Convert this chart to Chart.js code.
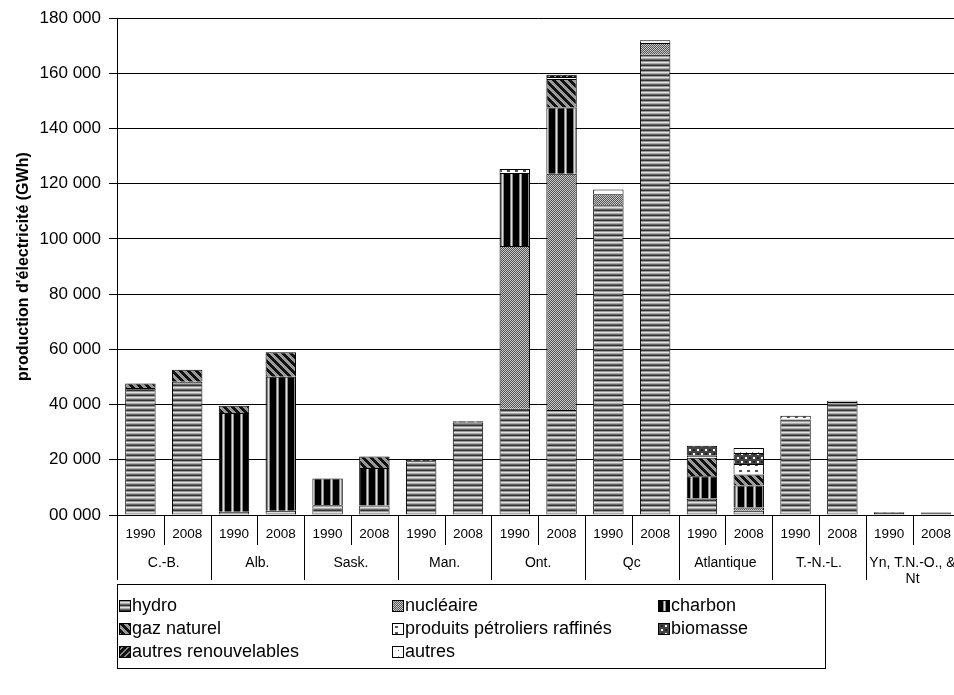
<!DOCTYPE html>
<html>
<head>
<meta charset="utf-8">
<script src="https://cdn.jsdelivr.net/npm/chart.js@4.4.0/dist/chart.umd.min.js"></script>
<style>
  html, body { margin: 0; background: #fff; overflow: hidden; }
  #box { width: 954px; height: 695px; overflow: hidden; }
</style>
</head>
<body>
<div id="box"><canvas id="chart" width="962" height="695"></canvas></div>
<script>
// données (GWh)
const years = ['1990','2008','1990','2008','1990','2008','1990','2008','1990','2008',
               '1990','2008','1990','2008','1990','2008','1990','2008'];
const regions = ['C.-B.', 'Alb.', 'Sask.', 'Man.', 'Ont.', 'Qc', 'Atlantique', 'T.-N.-L.', ['Yn, T.N.-O., &', 'Nt']];
const yTicks = [0, 20000, 40000, 60000, 80000, 100000, 120000, 140000, 160000, 180000];

const hydro     = [46000, 48300, 1200, 1500, 3500, 3400, 19500, 33500, 38500, 38000, 112200, 166800, 6000, 1500, 34600, 40900, 700, 600];
const nucleaire = [0, 0, 0, 0, 0, 0, 0, 0, 59000, 85600, 4000, 4200, 0, 1200, 0, 0, 0, 0];
const charbon   = [0, 0, 35800, 48600, 9700, 13600, 500, 500, 26400, 24000, 0, 0, 8000, 8000, 0, 0, 0, 0];
const gaz       = [1600, 4300, 2600, 8900, 0, 4200, 0, 0, 0, 10400, 0, 0, 6700, 4000, 0, 0, 0, 0];
const petrole   = [0, 0, 0, 0, 0, 0, 0, 0, 1500, 700, 1700, 500, 800, 3800, 1400, 500, 300, 300];
const biomasse  = [0, 0, 0, 0, 0, 0, 0, 0, 0, 0, 0, 0, 3600, 4000, 0, 0, 0, 0];
const autresRen = [0, 0, 0, 0, 0, 0, 0, 0, 0, 800, 0, 0, 0, 0, 0, 0, 0, 0];
const autres    = [0, 0, 0, 0, 0, 0, 0, 0, 0, 0, 0, 500, 0, 1800, 0, 0, 0, 0];

const ctx = document.getElementById('chart').getContext('2d');

function tile(w, h, fn) {
  const c = document.createElement('canvas');
  c.width = w; c.height = h;
  const g = c.getContext('2d');
  for (let y = 0; y < h; y++) {
    for (let x = 0; x < w; x++) {
      g.fillStyle = fn(x, y);
      g.fillRect(x, y, 1, 1);
    }
  }
  return ctx.createPattern(c, 'repeat');
}

const pat = {
  hydro: tile(1, 5, (x, y) => ['#333', '#999', '#e0e0e0', '#aaa', '#666'][y]),
  nucleaire: tile(2, 2, (x, y) => (x + y) % 2 ? '#555' : '#c8c8c8'),
  charbon: tile(9, 1, (x) => x < 6 ? '#000' : (x === 7 ? '#ddd' : '#888')),
  gaz: tile(8, 8, (x, y) => ((x - y + 16) % 8) < 4 ? '#111' : '#9a9a9a'),
  petrole: tile(8, 6, (x, y) => (y >= 2 && y <= 3 && x >= 3 && x <= 5) ? '#555' : '#fff'),
  biomasse: tile(8, 8, (x, y) => {
    const a = (x < 4) === (y < 4);
    if ((x % 4 === 1 || x % 4 === 2) && (y % 4 === 1 || y % 4 === 2)) return a ? '#fff' : '#222';
    return '#444';
  }),
  autresRen: tile(6, 6, (x, y) => ((x + y) % 6) < 2 ? '#888' : '#111'),
  autres: tile(6, 6, (x, y) => (x === 2 && y === 2) ? '#777' : '#fff')
};

const series = [
  { label: 'hydro', data: hydro, p: pat.hydro },
  { label: 'nucléaire', data: nucleaire, p: pat.nucleaire },
  { label: 'charbon', data: charbon, p: pat.charbon },
  { label: 'gaz naturel', data: gaz, p: pat.gaz },
  { label: 'produits pétroliers raffinés', data: petrole, p: pat.petrole },
  { label: 'biomasse', data: biomasse, p: pat.biomasse },
  { label: 'autres renouvelables', data: autresRen, p: pat.autresRen },
  { label: 'autres', data: autres, p: pat.autres }
];

const FONT = 'Liberation Sans, Arial, sans-serif';

const extras = {
  id: 'extras',
  afterDraw(chart) {
    const g = chart.ctx;
    const a = chart.chartArea;
    const slot = (a.right - a.left) / years.length;
    g.save();
    g.strokeStyle = '#000';
    g.lineWidth = 1;
    for (let i = 0; i <= years.length; i++) {
      const x = Math.round(a.left + i * slot) + 0.5;
      g.beginPath();
      g.moveTo(x, a.bottom);
      g.lineTo(x, i % 2 === 0 ? 580 : 545);
      g.stroke();
    }
    g.fillStyle = '#000';
    g.font = '14px ' + FONT;
    g.textAlign = 'center';
    g.textBaseline = 'middle';
    regions.forEach((r, k) => {
      const cx = a.left + (2 * k + 1) * slot;
      const lines = Array.isArray(r) ? r : [r];
      lines.forEach((t, j) => g.fillText(t, cx, 563 + j * 16));
    });

    // légende
    g.strokeRect(117.5, 584.5, 708, 84);
    const cols = [118, 391, 657];
    const rows = [606, 629, 652];
    g.font = '18px ' + FONT;
    g.textAlign = 'left';
    series.forEach((s, i) => {
      const x = cols[i % 3], y = rows[Math.floor(i / 3)];
      g.fillStyle = s.p;
      g.fillRect(x + 1, y - 6, 11, 11);
      g.strokeRect(x + 1.5, y - 5.5, 11, 11);
      g.fillStyle = '#000';
      g.fillText(s.label, x + 14, y);
    });
    g.restore();
  }
};

new Chart(ctx, {
  type: 'bar',
  data: {
    labels: years,
    datasets: series.map(s => ({
      label: s.label,
      data: s.data,
      backgroundColor: s.p,
      borderColor: '#000',
      borderWidth: 1,
      barPercentage: 0.65,
      categoryPercentage: 1
    }))
  },
  options: {
    responsive: false,
    animation: false,
    devicePixelRatio: 1,
    layout: { padding: { top: 15, right: 2, left: 0, bottom: 0 } },
    plugins: { legend: { display: false }, tooltip: { enabled: false } },
    scales: {
      x: {
        stacked: true,
        afterFit(scale) { scale.height = 180; },
        grid: { display: false, drawTicks: false },
        border: { display: false },
        ticks: { color: '#000', font: { family: FONT, size: 13.5 }, padding: 11, maxRotation: 0, autoSkip: false }
      },
      y: {
        stacked: true,
        min: 0,
        max: 180000,
        afterFit(scale) { scale.width = 117; },
        afterBuildTicks(scale) { scale.ticks = yTicks.map(v => ({ value: v })); },
        grid: { color: '#000', lineWidth: 1, tickLength: 8 },
        border: { display: true, color: '#000', width: 1 },
        ticks: {
          color: '#000',
          padding: 8,
          font: { family: FONT, size: 17 },
          callback: v => v === 0 ? '00 000' : String(v).replace(/\B(?=(\d{3})+(?!\d))/g, ' ')
        },
        title: {
          display: true,
          text: "production d'électricité (GWh)",
          color: '#000',
          font: { family: FONT, size: 16, weight: 'bold' },
          padding: { top: 14, bottom: 0 }
        }
      }
    }
  },
  plugins: [extras]
});
</script>
</body>
</html>
